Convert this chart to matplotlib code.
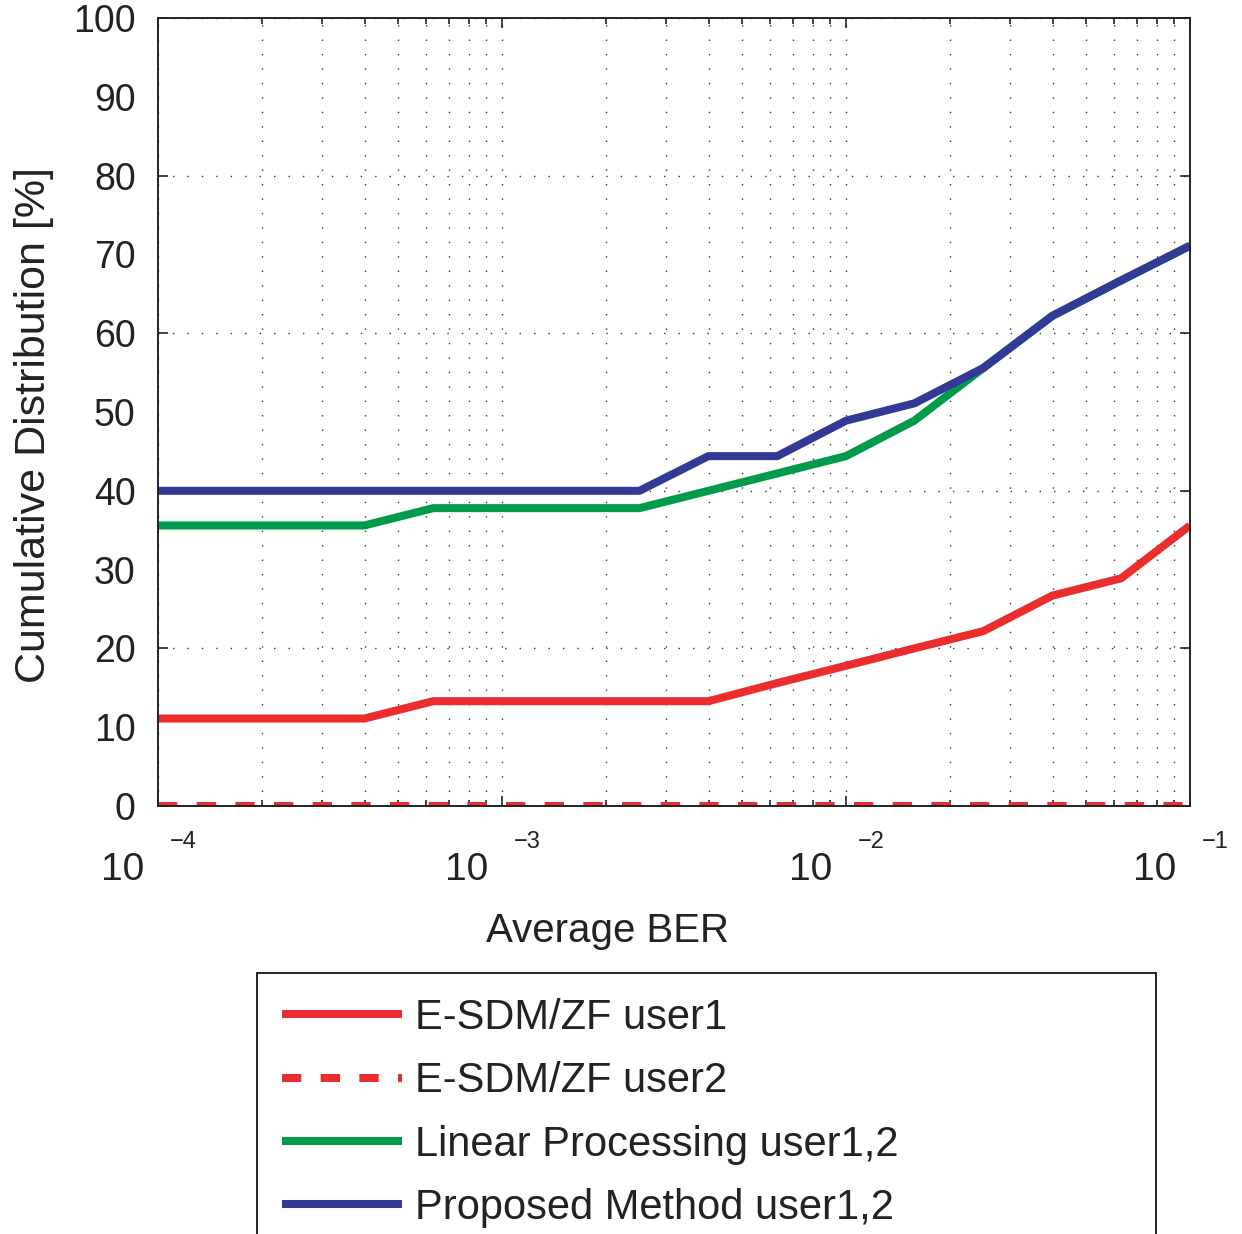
import matplotlib
matplotlib.use("Agg")
import matplotlib.pyplot as plt
from matplotlib import font_manager
from matplotlib.ticker import FixedLocator, LogLocator, NullFormatter, FormatStrFormatter

# Data
ber = [1.0e-4, 1.58e-4, 2.51e-4, 3.98e-4, 6.31e-4, 1.0e-3, 1.58e-3, 2.51e-3,
       3.98e-3, 6.31e-3, 1.0e-2, 1.58e-2, 2.51e-2, 3.98e-2, 6.31e-2, 1.0e-1]
esdm_user1 = [11.1, 11.1, 11.1, 11.1, 13.3, 13.3, 13.3, 13.3,
              13.3, 15.6, 17.8, 20.0, 22.2, 26.7, 28.9, 35.6]
esdm_user2 = [0, 0, 0, 0, 0, 0, 0, 0, 0, 0, 0, 0, 0, 0, 0, 0]
linear = [35.6, 35.6, 35.6, 35.6, 37.8, 37.8, 37.8, 37.8,
          40.0, 42.2, 44.4, 48.9, 55.6, 62.2, 66.7, 71.1]
proposed = [40.0, 40.0, 40.0, 40.0, 40.0, 40.0, 40.0, 40.0,
            44.4, 44.4, 48.9, 51.1, 55.6, 62.2, 66.7, 71.1]
labels = ["E-SDM/ZF user1", "E-SDM/ZF user2", "Linear Processing user1,2", "Proposed Method user1,2"]
decades = [-4, -3, -2, -1]

# fonts: narrow face if there is one, else plain Liberation Sans
try:
    font_manager.findfont("Liberation Sans Narrow", fallback_to_default=False)
    narrow = "Liberation Sans Narrow"
except Exception:
    narrow = "Liberation Sans"
regular = "Liberation Sans"

red = "#EB2D2E"
green = "#009B4A"
blue = "#333A96"
ink = "#222222"

fig = plt.figure(figsize=(12.42, 12.34), dpi=100)
ax = fig.add_axes([158 / 1242, 1 - 806 / 1234, 1032 / 1242, 788 / 1234])

lw = 5.8
ax.plot(ber, esdm_user1, color=red, lw=lw, solid_capstyle="butt", label=labels[0])
ax.plot(ber, esdm_user2, color=red, lw=lw, dashes=(2.4, 2.4), dash_capstyle="butt", label=labels[1])
ax.plot(ber, linear, color=green, lw=lw, solid_capstyle="butt", label=labels[2])
ax.plot(ber, proposed, color=blue, lw=lw, solid_capstyle="butt", label=labels[3])

ax.set_xscale("log")
ax.set_xlim(1e-4, 1e-1)
ax.set_ylim(0, 100)

# x ticks: majors at decades, minors 2..9
ax.xaxis.set_major_locator(FixedLocator([10.0 ** d for d in decades]))
ax.xaxis.set_minor_locator(LogLocator(base=10, subs=range(2, 10)))
ax.xaxis.set_major_formatter(NullFormatter())
ax.xaxis.set_minor_formatter(NullFormatter())

# y: grid/ticks at 20s, labels at every 10
ax.yaxis.set_major_locator(FixedLocator([0, 20, 40, 60, 80, 100]))
ax.yaxis.set_minor_locator(FixedLocator([10, 30, 50, 70, 90]))
ax.yaxis.set_major_formatter(FormatStrFormatter("%d"))
ax.yaxis.set_minor_formatter(FormatStrFormatter("%d"))

ax.tick_params(which="both", direction="in", top=True, right=True, width=1.2, colors=ink)
ax.tick_params(which="major", length=7)
ax.tick_params(axis="x", which="minor", length=4)
ax.tick_params(axis="y", which="minor", length=0)
ax.tick_params(axis="y", which="both", labelsize=27, pad=16, labelcolor=ink)
for t in ax.get_yticklabels(which="both"):
    t.set_fontfamily(narrow)

grid_style = dict(color="#333333", linewidth=1.0, linestyle=(0, (1, 9.4)))
ax.grid(axis="x", which="both", **grid_style)
ax.grid(axis="y", which="major", **grid_style)

for s in ax.spines.values():
    s.set_linewidth(1.4)
    s.set_color(ink)

# MATLAB-style 10^k labels
for d in decades:
    ax.annotate("10", xy=(10.0 ** d, 0), xycoords=("data", "axes fraction"),
                xytext=(-14, -74), textcoords="offset pixels", ha="right", va="baseline",
                fontsize=28, family=narrow, color=ink, annotation_clip=False)
    ax.annotate("\u2212%d" % -d, xy=(10.0 ** d, 0), xycoords=("data", "axes fraction"),
                xytext=(12, -42), textcoords="offset pixels", ha="left", va="baseline",
                fontsize=17, family=narrow, color=ink, annotation_clip=False)

ax.set_xlabel("Average BER", fontsize=29, family=narrow, color=ink)
ax.xaxis.set_label_coords(0.436, -0.134)
ax.set_ylabel("Cumulative Distribution [%]", fontsize=31, family=regular, color=ink)
ax.yaxis.set_label_coords(-0.1008, 0.4835)

leg = ax.legend(loc="upper left", bbox_to_anchor=(257 / 1242, 0.0, 899 / 1242, 1 - 973 / 1234),
                bbox_transform=fig.transFigure, mode="expand", borderaxespad=0,
                fancybox=False, framealpha=1, edgecolor=ink,
                prop={"family": narrow, "size": 30}, handlelength=2.88, handletextpad=0.31,
                labelspacing=0.56, borderpad=0.6)
leg.get_frame().set_linewidth(1.4)
for t in leg.get_texts():
    t.set_color(ink)

fig.savefig("out.png", dpi=100)
